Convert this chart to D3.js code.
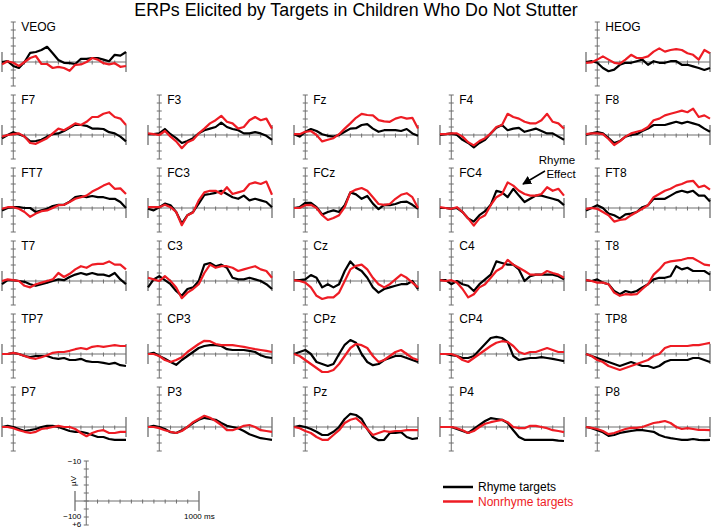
<!DOCTYPE html>
<html><head><meta charset="utf-8">
<script src="https://cdn.jsdelivr.net/npm/d3@7"></script>
<style>body{margin:0;background:#fff}svg{display:block;font-family:Arial,"Liberation Sans",sans-serif}</style>
</head><body><svg id="c" width="713" height="530"></svg>
<script>
// sample times (ms)
const times = d3.range(-100, 1001, 50);
// electrode grid (rows of the figure)
const grid = [
  ["VEOG", null, null, null, "HEOG"],
  ["F7", "F3", "Fz", "F4", "F8"],
  ["FT7", "FC3", "FCz", "FC4", "FT8"],
  ["T7", "C3", "Cz", "C4", "T8"],
  ["TP7", "CP3", "CPz", "CP4", "TP8"],
  ["P7", "P3", "Pz", "P4", "P8"]
];
const seriesNames = ["Rhyme targets", "Nonrhyme targets"];
const seriesColors = ["#000000", "#ee1c24"];
const yTicks = d3.range(-10, 7, 2);      // µV
const xTicks = d3.range(0, 1001, 100);   // ms

// µV values (negative plotted up), one per sample time
const rhyme = {
  VEOG: [0,-0.2,1.0,1.5,0,-2.3,-2.5,-3,-3.8,-2.2,-0.5,0.2,0.3,0.5,-0.8,-0.8,-1,-1,-0.6,-0.2,-1.8,-1.6,-2.5],
  HEOG: [0,-0.2,0.2,1.5,2.3,1.9,0.7,0.2,0.2,-0.2,-0.6,0.7,-0.2,0.2,0.2,-0.2,-0.2,0.7,0.7,1.1,1.5,2.0,1.5],
  F7:   [0.8,0,-0.7,-0.2,0.4,1.6,1.5,1.2,0.4,-0.2,-0.4,-1.0,-1.8,-2.6,-2.5,-2.3,-1.6,-1.6,-1.5,-0.7,-0.4,0.4,1.6],
  F3:   [-0.2,-0.2,-0.4,-1.5,-0.2,0.8,2.0,1.5,0.8,-0.4,-1.2,-1.6,-2.0,-3.1,-2.0,-1.5,-1.2,-0.4,-0.4,-0.7,-0.4,0.2,1.2],
  Fz:   [-0.2,0.4,-0.8,-1.5,-1.0,-0.2,0.2,0.4,0,-0.8,-1.6,-1.7,-2.5,-2.7,-1.6,-0.8,-1.2,-1.2,-1.2,-1.0,-1.5,-0.4,0.2],
  F4:   [0,-0.2,-0.4,0,1.2,2.0,3.1,2.0,1.2,-0.4,-1.8,-2.5,-1.2,-1.6,-1.8,-0.8,-1.2,-1.6,-1.0,-0.4,-0.4,0.4,1.2],
  F8:   [0,-0.4,-0.7,-0.4,0.8,2.0,1.5,0.4,0,-0.2,-1.0,-1.6,-2.5,-2.5,-2.5,-2.9,-3.3,-2.9,-3.3,-2.9,-2.5,-1.6,-0.8],
  FT7:  [0.6,0,-0.2,-0.2,0,0,1.0,0.6,0.2,-0.5,-0.8,-0.8,-1.6,-2.7,-3.0,-2.7,-3.0,-2.7,-2.7,-2.3,-2.3,-1.5,0],
  FC3:  [0.2,0.6,-0.2,-1.1,-0.7,1.0,3.9,1.8,1.0,-1.1,-3.3,-3.5,-3.8,-4.3,-3.5,-2.7,-2.3,-3.1,-1.9,-2.3,-1.9,-1.5,-0.2],
  FCz:  [0,-0.2,-1.3,-1.3,-0.2,1.6,1.0,0.6,1.0,-0.7,-3.9,-3.4,-2.3,-3.0,-1.1,0.3,-0.8,-0.7,-1.0,-1.5,-1.6,-0.8,0.2],
  FC4:  [0,0,0.2,0,1.0,2.6,3.4,1.8,0.8,-0.8,-4.3,-3.9,-2.7,-4.8,-3.1,-1.5,-2.3,-3.1,-3.1,-2.7,-2.3,-1.9,-0.7],
  FT8:  [0.6,0,-0.7,0,1.4,1.8,2.6,1.6,1.4,1.0,-0.2,-0.7,-2.3,-2.3,-2.3,-3.1,-3.9,-4.3,-3.9,-4.3,-3.1,-3.1,-1.6],
  T7:   [0.8,-0.2,-0.2,0,0.2,0.8,1.2,0.8,0.4,0,-0.4,-0.2,-1.0,-1.6,-2.0,-1.6,-2.0,-1.6,-1.6,-1.2,-2.0,-0.4,0.8],
  C3:   [1.6,-0.4,-1.2,-0.2,0.8,2.5,3.7,2.0,1.6,0,-4.1,-4.5,-3.7,-4.1,-3.3,-0.8,-0.4,-0.4,-0.8,-0.4,0,0.8,2.0],
  Cz:   [-0.2,-0.2,-0.4,-1.5,-0.8,1.6,0.8,1.6,0.8,-2.5,-4.9,-3.3,-2.5,-0.8,1.6,2.9,2.0,1.6,1.2,0.8,0.8,0,2.0],
  C4:   [-0.2,-0.2,0.8,0,0.8,1.2,2.5,0.8,-0.4,-1.6,-4.9,-4.5,-4.1,-4.1,-2.9,0,-1.2,-1.6,-1.6,-1.6,-1.6,-1.2,-0.4],
  T8:   [-0.2,0,-0.4,0.4,0.8,2.5,3.3,2.5,2.9,2.5,1.6,0.8,-0.4,-0.8,-0.8,-1.2,-3.7,-2.9,-3.3,-2.5,-2.5,-2.5,-1.6],
  TP7:  [0,0,-0.3,0,0.5,0.8,0.5,0.5,0.5,1.0,1.2,1.0,1.5,1.5,1.2,1.8,2.0,2.0,2.2,2.5,2.2,2.8,3.0],
  CP3:  [0,-0.3,0.5,1.2,2.0,2.7,1.5,0.5,-0.5,-1.5,-2.0,-2.2,-2.2,-2.0,-1.2,-1.0,-1.0,-1.0,-0.8,-0.5,0.3,0.8,1.0],
  CPz:  [0,-0.5,-1.0,0,2.0,2.5,3.0,2.5,0,-2.3,-3.5,-2.8,0,2.0,2.8,2.5,1.5,1.0,0.5,0.5,1.0,1.5,2.0],
  CP4:  [0,0,0.3,0.5,1.0,1.0,0.5,-1.0,-2.5,-4.0,-4.3,-4.0,-3.0,0.5,1.5,1.2,1.0,1.0,0.8,1.0,1.2,1.5,1.8],
  TP8:  [0,0.5,1.0,1.5,2.0,2.5,3.0,2.5,2.0,2.5,3.0,3.0,3.5,3.0,2.0,1.5,1.5,1.5,1.5,1.0,1.0,1.5,2.0],
  P7:   [0,-0.3,0,0.5,1.0,0.8,0.5,0,-0.3,-0.3,0,0.5,1.0,1.2,1.2,1.5,2.0,2.5,2.5,3.0,3.2,3.2,3.2],
  P3:   [0,-0.3,0,0.5,1.3,1.5,0.8,0,-1.0,-1.8,-2.3,-2.0,-1.8,-1.0,-0.3,0,0.3,1.0,1.8,2.3,2.8,3.0,3.2],
  Pz:   [0,-0.3,0,0.5,1.2,2.0,2.0,1.2,0,-2.0,-3.3,-3.0,-2.0,0.5,2.5,3.3,3.2,1.5,1.5,1.3,2.5,3.0,2.8],
  P4:   [0,0,0,0.5,1.0,1.5,0.5,-0.5,-1.5,-2.2,-2.0,-1.8,-1.0,0.8,2.5,3.2,3.2,3.2,3.2,3.2,3.2,3.4,3.5],
  P8:   [0,0.3,0.8,1.3,2.2,2.0,1.5,1.2,1.0,0.8,0.8,1.0,1.2,2.0,2.5,2.8,3.0,3.2,3.2,3.0,3.2,3.3,3.2]
};
const nonrhyme = {
  VEOG: [0.6,-0.2,0.2,1.0,0,-1.0,-1.5,0.5,0.5,1.5,1.2,1.5,2.2,0.7,0.6,0,-1.0,-0.6,0.3,0.6,0.3,1.2,1.0],
  HEOG: [0.2,0.1,-0.6,-1.4,-0.6,0.2,0.4,-0.6,-1.8,-1.0,-1.0,-1.4,-2.6,-3.4,-2.6,-3.0,-3.2,-3.0,-2.2,-1.8,-0.6,-3.0,-2.2],
  F7:   [0.4,0,-0.2,-0.4,0.4,2.0,2.2,1.5,0.8,-0.4,-1.6,-1.2,-2.0,-2.9,-2.5,-3.3,-4.5,-4.5,-5.3,-5.7,-4.5,-4.1,-2.5],
  F3:   [-0.4,-0.2,0,-1.0,0.4,1.6,3.3,1.8,1.2,-0.4,-1.6,-2.9,-3.7,-4.8,-3.3,-2.9,-1.6,-2.0,-3.7,-4.5,-3.7,-4.1,-1.6],
  Fz:   [-0.2,-0.2,-0.8,-1.0,0,1.6,1.2,0.8,-0.2,-1.6,-2.9,-4.3,-5.3,-5.0,-4.9,-3.7,-3.4,-3.3,-4.1,-4.5,-4.1,-4.3,-1.6],
  F4:   [-0.2,-0.2,-0.4,-0.4,0.4,1.8,2.6,1.5,0.8,-0.4,-2.0,-2.5,-5.3,-4.5,-4.1,-3.3,-2.9,-2.9,-3.7,-5.3,-3.3,-2.9,-1.6],
  F8:   [-0.2,-0.4,-0.4,-0.2,1.0,2.5,1.6,0.4,-0.4,-0.8,-1.2,-2.0,-3.7,-4.1,-4.9,-5.3,-5.7,-6.1,-5.7,-6.6,-4.5,-4.9,-4.1],
  FT7:  [0.2,-0.2,-0.2,0.2,1.0,2.2,1.4,0.8,0.6,0,-0.7,-0.8,-1.5,-2.3,-2.7,-3.1,-4.1,-4.8,-5.6,-6.2,-4.8,-4.9,-3.5],
  FC3:  [-0.2,-0.2,-0.2,-0.8,-0.2,1.0,4.3,1.8,1.1,-1.9,-3.9,-4.3,-4.3,-3.5,-5.2,-3.5,-3.9,-4.3,-6.0,-6.4,-6.0,-6.6,-3.3],
  FCz:  [0,0,-0.7,-0.8,0,1.8,3.0,2.5,1.8,-0.2,-3.9,-4.6,-5.0,-4.3,-2.7,-1.0,-0.8,-1.0,-2.3,-3.3,-3.7,-2.7,0],
  FC4:  [-0.2,0,0.2,-0.2,1.0,2.6,4.4,2.6,1.8,-0.7,-2.7,-3.5,-6.4,-5.6,-4.3,-3.5,-3.1,-3.1,-3.5,-5.2,-4.3,-4.8,-3.1],
  FT8:  [0.2,0,0.2,1.0,1.8,3.4,3.0,2.8,1.8,1.0,0.2,-0.7,-2.7,-3.5,-4.3,-4.8,-5.6,-6.0,-6.6,-6.8,-5.2,-5.6,-4.6],
  T7:   [0,-0.4,-0.2,0,1.2,1.6,0.8,0.4,0,-0.4,-2.0,-1.0,-1.8,-2.9,-3.7,-3.3,-4.1,-4.3,-4.3,-4.9,-4.1,-4.1,-2.9],
  C3:   [-0.8,-0.4,0,-1.2,0,1.6,4.3,2.9,2.0,0.8,-2.0,-4.1,-3.3,-3.7,-3.7,-3.3,-2.5,-2.9,-3.3,-3.7,-2.9,-2.5,-0.8],
  Cz:   [-0.2,0,0.4,1.6,3.7,4.5,4.1,4.1,2.9,0,-2.9,-3.8,-4.1,-2.9,-0.8,0.8,1.6,0.8,-0.4,-1.6,-0.8,0.4,1.6],
  C4:   [-0.2,0,-0.2,0.4,2.0,4.1,3.3,1.6,0.8,-0.8,-2.5,-3.3,-5.3,-4.1,-3.3,-2.5,-1.6,-1.6,-1.6,-2.5,-2.0,-1.6,-0.8],
  T8:   [-0.2,0,0.4,0.4,0.8,2.9,3.7,3.3,3.4,3.3,2.0,0.8,-1.6,-2.9,-4.5,-4.9,-5.1,-5.3,-5.7,-5.7,-4.9,-4.1,-3.9],
  TP7:  [0,0,-0.3,0,0.5,1.0,1.2,0.8,0.3,-0.3,-0.5,-0.5,-0.8,-1.2,-1.5,-1.2,-1.8,-2.0,-1.8,-2.0,-2.2,-2.0,-2.0],
  CP3:  [0,0,0.5,1.5,2.0,1.5,0.8,-0.5,-1.5,-2.5,-3.3,-3.2,-2.5,-2.2,-2.2,-2.2,-2.0,-1.8,-1.5,-1.2,-1.0,-0.8,-0.5],
  CPz:  [0,0.5,1.5,2.5,3.5,4.5,4.5,4.0,2.5,0.5,-1.5,-2.5,-2.2,-1.5,0.5,2.0,1.5,0.5,-0.5,-1.0,0,1.0,1.5],
  CP4:  [0,0,0,0.5,1.5,2.0,1.0,0,-1.0,-2.0,-2.8,-3.2,-3.0,-2.0,-0.5,0,-0.5,-0.5,-1.0,-1.5,-1.0,-0.5,-0.5],
  TP8:  [0,0.5,1.5,2.0,3.0,3.5,4.0,3.5,3.0,2.5,2.0,1.5,0.5,0,-1.5,-2.0,-2.0,-2.0,-2.0,-2.2,-2.2,-2.5,-2.8],
  P7:   [0,0,0.3,0.8,1.2,1.5,1.2,0.5,0.3,0,-0.3,0,0,0.5,1.5,2.3,1.5,1.0,0.8,1.5,1.5,1.2,1.2],
  P3:   [0,0,0.3,0.8,1.2,1.5,1.0,0,-1.2,-2.0,-2.8,-2.3,-1.5,-0.5,0.8,0.8,0.3,-0.3,-0.5,0,0.8,1.0,1.2],
  Pz:   [0,0.3,1.0,1.5,2.5,3.2,3.2,2.0,0.8,-1.0,-1.8,-2.2,-1.0,0.5,2.0,1.5,1.0,1.2,1.0,1.0,0.8,0.8,0.8],
  P4:   [0,0,0,0.3,0.8,1.5,1.0,0,-0.8,-1.2,-1.5,-1.8,-1.2,0,0.3,0.3,-0.3,-0.3,0,0.3,0.8,1.0,1.3],
  P8:   [0,0.2,0.5,1.0,1.8,1.5,1.0,0.5,0.2,0.2,0,-0.5,-1.0,-1.2,-1.5,-1.0,0,0.5,0.3,0.5,0.7,0.7,0.8]
};
const seriesData = [rhyme, nonrhyme];

const svg = d3.select("#c");
const x = d3.scaleLinear().domain([-100, 1000]).range([0, 124]);
const y = d3.scaleLinear().domain([-10, 6]).range([-40, 24]);
const colStep = 146, rowStep = 73, left0 = 2, base0 = 62;
const axisColor = "#6e6e6e";

function drawAxes(g) {
  g.append("line").attr("x1", x(-100)).attr("x2", x(1000)).attr("y1", 0).attr("y2", 0)
    .attr("stroke", axisColor).attr("stroke-width", 1);
  [-100, 1000].forEach(t => g.append("line").attr("x1", x(t)).attr("x2", x(t))
    .attr("y1", -10).attr("y2", 10).attr("stroke", axisColor).attr("stroke-width", 1.3));
  g.selectAll(".xt").data(xTicks.filter(t => t > 0 && t < 1000)).enter().append("line")
    .attr("x1", d => x(d)).attr("x2", d => x(d)).attr("y1", -1.5).attr("y2", 2.5)
    .attr("stroke", axisColor).attr("stroke-width", 1);
  g.append("line").attr("x1", x(0)).attr("x2", x(0)).attr("y1", y(-10)).attr("y2", y(6))
    .attr("stroke", axisColor).attr("stroke-width", 1);
  g.selectAll(".yt").data(yTicks).enter().append("line")
    .attr("x1", x(0) - 2.5).attr("x2", x(0) + 2.5).attr("y1", d => y(d)).attr("y2", d => y(d))
    .attr("stroke", axisColor).attr("stroke-width", 1);
}

const line = d3.line().x((d, i) => x(times[i])).y(d => y(d)).curve(d3.curveLinear);

grid.forEach((row, r) => row.forEach((ch, c) => {
  if (!ch) return;
  const g = svg.append("g").attr("transform", `translate(${left0 + c * colStep},${base0 + r * rowStep})`);
  drawAxes(g);
  g.append("text").attr("x", x(0) + 8).attr("y", -31).attr("font-size", 12).attr("fill", "#000").text(ch);
  seriesData.forEach((s, k) => {
    g.append("path").attr("d", line(s[ch])).attr("fill", "none")
      .attr("stroke", seriesColors[k]).attr("stroke-width", 2.2).attr("stroke-linejoin", "round");
  });
}));

// title
svg.append("text").attr("x", 356).attr("y", 16).attr("text-anchor", "middle")
  .attr("font-size", 17.8).attr("fill", "#000").text("ERPs Elicited by Targets in Children Who Do Not Stutter");

// annotation
svg.append("defs").append("marker").attr("id", "ah").attr("viewBox", "0 0 10 10").attr("refX", 9).attr("refY", 5)
  .attr("markerWidth", 9).attr("markerHeight", 9).attr("markerUnits", "userSpaceOnUse").attr("orient", "auto")
  .append("path").attr("d", "M0,0L10,5L0,10z").attr("fill", "#000");
svg.append("text").attr("x", 557).attr("y", 164).attr("text-anchor", "middle").attr("font-size", 11.5).text("Rhyme");
svg.append("text").attr("x", 561).attr("y", 178).attr("text-anchor", "middle").attr("font-size", 11.5).text("Effect");
svg.append("line").attr("x1", 545).attr("y1", 171).attr("x2", 523).attr("y2", 184)
  .attr("stroke", "#000").attr("stroke-width", 1.5).attr("marker-end", "url(#ah)");

// scale bar
const sg = svg.append("g").attr("transform", "translate(75,501)");
drawAxes(sg);
sg.append("text").attr("x", x(0) - 5).attr("y", y(-10) + 3).attr("text-anchor", "end").attr("font-size", 8).text("\u221210");
sg.append("text").attr("x", x(0) - 5).attr("y", y(6) + 2).attr("text-anchor", "end").attr("font-size", 8).text("+6");
sg.append("text").attr("x", x(0) - 5).attr("y", 18).attr("text-anchor", "end").attr("font-size", 8).text("\u2212100");
sg.append("text").attr("x", x(1000) - 15).attr("y", 18).attr("text-anchor", "start").attr("font-size", 8).text("1000 ms");
sg.append("text").attr("transform", `translate(${x(0) - 10},${y(-5)}) rotate(-90)`).attr("text-anchor", "middle")
  .attr("font-size", 8).text("\u00b5V");

// legend
const lg = svg.append("g").attr("transform", "translate(443,487)");
seriesNames.forEach((n, k) => {
  lg.append("line").attr("x1", 0).attr("x2", 30).attr("y1", k * 14.5).attr("y2", k * 14.5)
    .attr("stroke", seriesColors[k]).attr("stroke-width", 2.5);
  lg.append("text").attr("x", 35).attr("y", k * 14.5 + 4).attr("font-size", 12)
    .attr("fill", k === 0 ? "#000" : seriesColors[k]).text(n);
});
</script></body></html>
